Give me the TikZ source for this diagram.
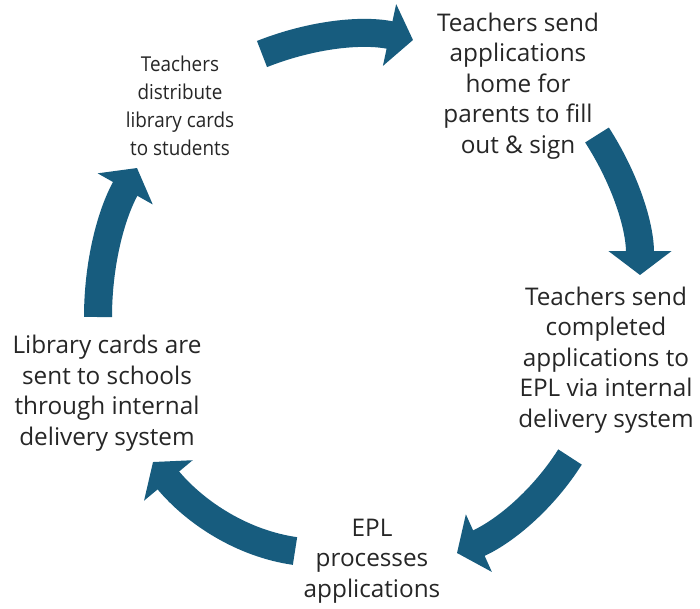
\documentclass[tikz,border=0pt]{standalone}
\usepackage{fontspec}
\setmainfont{Open Sans}
\newfontfamily\narrowsans[FakeStretch=0.92]{Open Sans}
\usetikzlibrary{arrows.meta}
\definecolor{arrowblue}{HTML}{175C7E}
\definecolor{textgray}{HTML}{262626}
\begin{document}
\begin{tikzpicture}[x=1pt,y=-1pt,
  cyc/.style={draw=arrowblue, line width=28pt, line cap=butt, -{Triangle[length=24pt,width=62pt]}},
  lbl/.style={align=center, text=textgray, font=\fontsize{24.3}{30.5}\selectfont, inner sep=0pt, anchor=base},
  lblsmall/.style={lbl, font=\narrowsans\fontsize{20.5}{27.7}\selectfont}]
\useasboundingbox (0,0) rectangle (700,608);
\fill[white] (0,0) rectangle (700,608);

% labels (anchored at the baseline of the last line)
\node[lbl] (n1) at (518,153) {Teachers send\\applications\\home for\\parents to fill\\out \& sign};
\node[lbl] (n2) at (606,427) {Teachers send\\completed\\applications to\\EPL via internal\\delivery system};
\node[lbl] (n3) at (372,597) {EPL\\processes\\applications};
\node[lbl] (n4) at (107,445) {Library cards are\\sent to schools\\through internal\\delivery system};
\node[lblsmall] (n5) at (180,155) {Teachers\\distribute\\library cards\\to students};

% arrow ends
\coordinate (a0) at (262,54);  \coordinate (a1) at (413,40);
\coordinate (b0) at (597,135); \coordinate (b1) at (640,275);
\coordinate (c0) at (570,457); \coordinate (c1) at (457,553);
\coordinate (d0) at (295,551); \coordinate (d1) at (153,462);
\coordinate (e0) at (98,317);  \coordinate (e1) at (137,168);

\draw[cyc] (a0) .. controls (312.7,34) and (363,29.3) .. (a1);
\draw[cyc] (b0) .. controls (625.7,179.7) and (640,226.3) .. (b1);
\draw[cyc] (c0) .. controls (543.3,499) and (505.7,531) .. (c1);
\draw[cyc] (d0) .. controls (243.7,543.7) and (196.3,514) .. (d1);
\draw[cyc] (e0) .. controls (98,263.7) and (111,214) .. (e1);
\end{tikzpicture}
\end{document}
